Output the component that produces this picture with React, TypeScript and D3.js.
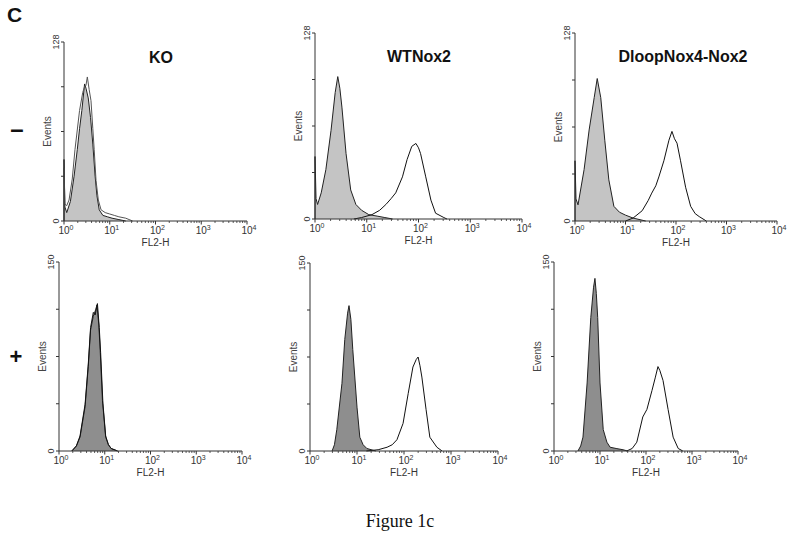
import React from "react";
import * as d3 from "d3";

// ---------- data ----------
const figureLetter = "C";
const caption = "Figure 1c";
const panelTitles = ["KO", "WTNox2", "DloopNox4-Nox2"];
const rowSigns = ["\u2013", "+"];
const rowYMax = [128, 150];
const decadeExponents = [0, 1, 2, 3, 4];
const xAxisLabel = "FL2-H";
const yAxisLabel = "Events";

// histograms: [log10(FL2-H), events]
const koMinusFilled: [number, number][] = [
  [0, 0], [0, 44], [0.02, 10], [0.06, 6], [0.14, 14], [0.22, 32], [0.29, 51], [0.34, 66], [0.39, 79],
  [0.45, 98], [0.48, 95], [0.53, 88], [0.58, 74], [0.63, 55], [0.68, 32], [0.72, 18], [0.77, 8],
  [0.85, 4], [0.95, 3], [1.05, 2], [1.2, 1], [1.35, 0],
];
const koMinusOpen: [number, number][] = [
  [0, 0], [0, 38], [0.02, 12], [0.06, 11], [0.11, 15], [0.18, 30], [0.24, 51], [0.34, 79], [0.41, 92],
  [0.45, 96], [0.48, 97], [0.51, 103], [0.55, 94], [0.59, 86], [0.63, 66], [0.66, 51], [0.70, 29],
  [0.75, 15], [0.81, 8], [0.9, 6], [1.0, 5], [1.1, 4], [1.2, 3], [1.35, 2], [1.5, 0],
];
const wtMinusFilled: [number, number][] = [
  [0, 0], [0, 43], [0.02, 14], [0.05, 10], [0.12, 18], [0.21, 34], [0.31, 61], [0.39, 87], [0.44, 98],
  [0.48, 90], [0.52, 77], [0.6, 45], [0.69, 20], [0.79, 10], [0.9, 6], [1.04, 3], [1.2, 2], [1.35, 1], [1.5, 0],
];
const wtMinusOpen: [number, number][] = [
  [0.75, 0], [0.9, 1], [1.1, 3], [1.25, 6], [1.37, 10], [1.47, 14], [1.56, 18], [1.69, 29], [1.78, 41],
  [1.87, 50], [1.95, 52], [2.0, 49], [2.04, 45], [2.14, 29], [2.24, 13], [2.33, 4], [2.49, 1], [2.55, 0],
];
const dlMinusFilled: [number, number][] = [
  [0, 0], [0, 41], [0.02, 15], [0.06, 11], [0.18, 35], [0.28, 62], [0.38, 84], [0.44, 97], [0.51, 84],
  [0.59, 55], [0.67, 28], [0.77, 10], [0.88, 6], [1.0, 4], [1.15, 2], [1.4, 0],
];
const dlMinusOpen: [number, number][] = [
  [1.0, 0], [1.15, 2], [1.33, 7], [1.45, 14], [1.52, 19], [1.6, 24], [1.66, 30], [1.76, 41], [1.86, 55],
  [1.92, 61], [1.97, 56], [2.02, 53], [2.09, 41], [2.19, 23], [2.29, 10], [2.38, 5], [2.46, 3], [2.6, 0],
];
const koPlusFilled: [number, number][] = [
  [0.28, 0], [0.38, 4], [0.46, 11], [0.57, 35], [0.64, 67], [0.69, 96], [0.75, 107], [0.8, 112],
  [0.83, 116], [0.87, 100], [0.9, 80], [0.95, 40], [1.02, 11], [1.08, 5], [1.14, 2], [1.28, 0],
];
const koPlusOpen: [number, number][] = [
  [0.28, 0], [0.38, 4], [0.46, 12], [0.57, 37], [0.64, 69], [0.69, 98], [0.75, 110], [0.79, 108],
  [0.84, 117], [0.88, 98], [0.91, 78], [0.96, 38], [1.02, 12], [1.08, 5], [1.14, 2], [1.28, 0],
];
const wtPlusFilled: [number, number][] = [
  [0.47, 0], [0.52, 5], [0.57, 17], [0.68, 54], [0.74, 89], [0.8, 110], [0.83, 116], [0.87, 105],
  [0.91, 81], [1.0, 35], [1.06, 11], [1.13, 5], [1.21, 2], [1.4, 0],
];
const wtPlusOpen: [number, number][] = [
  [1.2, 0], [1.45, 1], [1.64, 3], [1.75, 5], [1.85, 9], [1.98, 22], [2.09, 46], [2.19, 67], [2.26, 73],
  [2.3, 75], [2.34, 68], [2.38, 59], [2.47, 33], [2.55, 11], [2.7, 3], [2.81, 0],
];
const dlPlusFilled: [number, number][] = [
  [0.52, 0], [0.58, 4], [0.63, 11], [0.72, 54], [0.8, 106], [0.86, 130], [0.89, 137], [0.92, 125],
  [0.95, 106], [1.0, 54], [1.07, 17], [1.15, 7], [1.22, 3], [1.35, 2], [1.5, 1], [1.6, 0],
];
const dlPlusOpen: [number, number][] = [
  [1.58, 0], [1.7, 2], [1.8, 7], [1.93, 27], [2.02, 33], [2.13, 48], [2.2, 58], [2.26, 67], [2.3, 64],
  [2.37, 56], [2.48, 33], [2.59, 11], [2.7, 2], [2.8, 0],
];

const filledSeries = [
  [koMinusFilled, wtMinusFilled, dlMinusFilled],
  [koPlusFilled, wtPlusFilled, dlPlusFilled],
];
const openSeries = [
  [koMinusOpen, wtMinusOpen, dlMinusOpen],
  [koPlusOpen, wtPlusOpen, dlPlusOpen],
];

// ---------- layout ----------
const W = 800;
const H = 555;
const boxes = [
  [
    { x0: 64, x1: 247, y0: 42, y1: 221 },
    { x0: 315, x1: 522, y0: 33, y1: 219 },
    { x0: 575, x1: 777, y0: 33, y1: 221 },
  ],
  [
    { x0: 59, x1: 242, y0: 262, y1: 451 },
    { x0: 310, x1: 498, y0: 263, y1: 451 },
    { x0: 554, x1: 738, y0: 262, y1: 451 },
  ],
];
const titleCenters = [161, 419, 683];
const fillColors = ["#c4c4c4", "#8e8e8e"];
const axisColor = "#333";
const sans = "Arial, 'Liberation Sans', Helvetica, sans-serif";

function Panel({ r, c }: { r: number; c: number }) {
  const b = boxes[r][c];
  const yMax = rowYMax[r];
  const x = d3.scaleLog().domain([1, 1e4]).range([b.x0, b.x1]);
  const y = d3.scaleLinear().domain([0, yMax]).range([b.y1, b.y0]);
  const toX = (d: [number, number]) => x(Math.pow(10, d[0]));
  const area = d3
    .area<[number, number]>()
    .x(toX)
    .y0(y(0))
    .y1((d) => y(d[1]));
  const line = d3
    .line<[number, number]>()
    .x(toX)
    .y((d) => y(d[1]));
  const majors = decadeExponents.map((e) => Math.pow(10, e));
  const minors: number[] = [];
  decadeExponents.slice(0, -1).forEach((e) => {
    for (let k = 2; k <= 9; k++) minors.push(k * Math.pow(10, e));
  });
  const yTicks = d3.range(5).map((i) => (yMax * i) / 4);
  const filled = filledSeries[r][c];
  const open = openSeries[r][c];
  const openColor = r === 0 && c === 0 ? "#555" : "#111";
  const ymid = (b.y0 + b.y1) / 2;
  return (
    <g>
      <path d={area(filled) || ""} fill={fillColors[r]} stroke="none" />
      <path d={line(filled) || ""} fill="none" stroke="#222" strokeWidth={1} />
      <path d={line(open) || ""} fill="none" stroke={openColor} strokeWidth={1} />
      {/* axes */}
      <line x1={b.x0} x2={b.x0} y1={b.y0} y2={b.y1} stroke={axisColor} strokeWidth={1} />
      <line x1={b.x0} x2={b.x1} y1={b.y1} y2={b.y1} stroke={axisColor} strokeWidth={1} />
      {yTicks.map((t) => (
        <line key={"yt" + t} x1={b.x0 - 3} x2={b.x0} y1={y(t)} y2={y(t)} stroke={axisColor} strokeWidth={1} />
      ))}
      {majors.map((t) => (
        <line key={"xm" + t} x1={x(t)} x2={x(t)} y1={b.y1} y2={b.y1 + 3.5} stroke={axisColor} strokeWidth={1} />
      ))}
      {minors.map((t) => (
        <line key={"xn" + t} x1={x(t)} x2={x(t)} y1={b.y1} y2={b.y1 + 2} stroke={axisColor} strokeWidth={0.8} />
      ))}
      {/* y tick labels */}
      {[0, yMax].map((t) => (
        <text
          key={"yl" + t}
          transform={`translate(${b.x0 - 5},${y(t)}) rotate(-90)`}
          textAnchor="middle"
          fontSize={9}
          fontFamily={sans}
          fill="#333"
        >
          {t}
        </text>
      ))}
      {/* x tick labels */}
      {decadeExponents.map((e) => (
        <text
          key={"xl" + e}
          x={x(Math.pow(10, e)) + 2}
          y={b.y1 + 13}
          textAnchor="middle"
          fontSize={10}
          fontFamily={sans}
          fill="#333"
        >
          10
          <tspan fontSize={7} dy={-4}>
            {e}
          </tspan>
        </text>
      ))}
      <text
        x={(b.x0 + b.x1) / 2}
        y={b.y1 + 25}
        textAnchor="middle"
        fontSize={10}
        fontFamily={sans}
        fill="#333"
      >
        {xAxisLabel}
      </text>
      <text
        transform={`translate(${b.x0 - 13},${ymid}) rotate(-90)`}
        textAnchor="middle"
        fontSize={10}
        fontFamily={sans}
        fill="#444"
      >
        {yAxisLabel}
      </text>
    </g>
  );
}

export default function App() {
  return (
    <svg
      width={W}
      height={H}
      style={{ position: "absolute", left: 0, top: 0, background: "#fff" }}
    >
      <rect x={0} y={0} width={W} height={H} fill="#fff" />
      <text x={7} y={22} fontSize={21} fontWeight="bold" fontFamily={sans} fill="#111">
        {figureLetter}
      </text>
      {panelTitles.map((t, i) => (
        <text
          key={t}
          x={titleCenters[i]}
          y={i === 0 ? 63 : 62}
          textAnchor="middle"
          fontSize={16}
          fontWeight="bold"
          fontFamily={sans}
          fill="#111"
        >
          {t}
        </text>
      ))}
      <text x={17} y={137} textAnchor="middle" fontSize={24} fontWeight="bold" fontFamily={sans} fill="#111">
        {rowSigns[0]}
      </text>
      <text x={16} y={364} textAnchor="middle" fontSize={22} fontWeight="bold" fontFamily={sans} fill="#111">
        {rowSigns[1]}
      </text>
      {[0, 1].map((r) => [0, 1, 2].map((c) => <Panel key={r + "-" + c} r={r} c={c} />))}
      <text
        x={400}
        y={527}
        textAnchor="middle"
        fontSize={18}
        fontFamily="'Liberation Serif', 'Times New Roman', serif"
        fill="#111"
      >
        {caption}
      </text>
    </svg>
  );
}
